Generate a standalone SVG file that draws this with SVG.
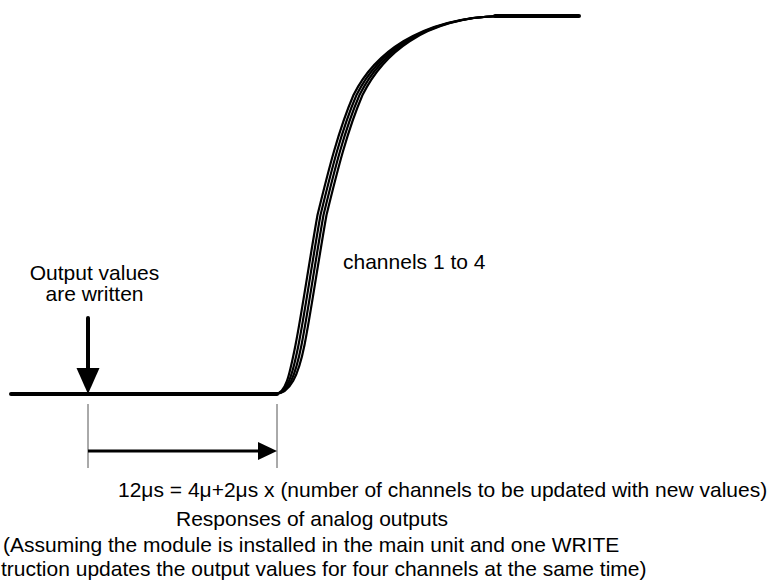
<svg xmlns="http://www.w3.org/2000/svg" width="770" height="581" viewBox="0 0 770 581">
<style>
  text { font-family: "Liberation Sans", Arial, sans-serif; font-size: 21px; fill: #000; }
  .curve { fill: none; stroke: #000; stroke-width: 2.2; }
  .thick { fill: none; stroke: #000; stroke-width: 4; stroke-linecap: round; }
  .guide { stroke: #555; stroke-width: 1; }
</style>
<rect width="770" height="581" fill="#fff"/>
<g id="signal">
  <line class="thick" x1="11" y1="394" x2="277" y2="394"/>
  <line class="thick" x1="495" y1="16" x2="579" y2="16"/>
  <path class="curve" d="M275,394 C285.75,394 289.5,375 295.5,345 C301.5,315 309.5,260 317.5,215 C328.5,170 338.5,130 353.5,95 C373.5,55 417.75,18 500,16"/>
  <path class="curve" d="M275,394 C287.25,394 292.5,375 298.5,345 C304.5,315 312.5,260 320.5,215 C331.5,170 341.5,130 356.5,95 C376.5,55 419.25,18 500,16"/>
  <path class="curve" d="M275,394 C288.75,394 295.5,375 301.5,345 C307.5,315 315.5,260 323.5,215 C334.5,170 344.5,130 359.5,95 C379.5,55 420.75,18 500,16"/>
  <path class="curve" d="M275,394 C290.25,394 298.5,375 304.5,345 C310.5,315 318.5,260 326.5,215 C337.5,170 347.5,130 362.5,95 C382.5,55 422.25,18 500,16"/>
</g>
<g id="write-arrow">
  <line x1="88" y1="318" x2="88" y2="372" stroke="#000" stroke-width="4" stroke-linecap="round"/>
  <polygon points="76.5,368 99.5,368 88,394"/>
</g>
<g id="connectors">
  <line class="guide" x1="88" y1="404" x2="88" y2="468"/>
  <line class="guide" x1="277" y1="404" x2="277" y2="468"/>
  <line x1="88" y1="451" x2="262" y2="451" stroke="#000" stroke-width="3"/>
  <polygon points="258,442 277,451 258,460"/>
</g>
<g id="labels">
  <text x="94.5" y="280" text-anchor="middle">Output values</text>
  <text x="94.5" y="301" text-anchor="middle">are written</text>
  <text x="343" y="269">channels 1 to 4</text>
  <text x="118" y="497">12μs = 4μ+2μs x (number of channels to be updated with new values)</text>
  <text x="176" y="526">Responses of analog outputs</text>
  <text x="3" y="552">(Assuming the module is installed in the main unit and one WRITE</text>
  <text x="1" y="576">truction updates the output values for four channels at the same time)</text>
</g>
</svg>
